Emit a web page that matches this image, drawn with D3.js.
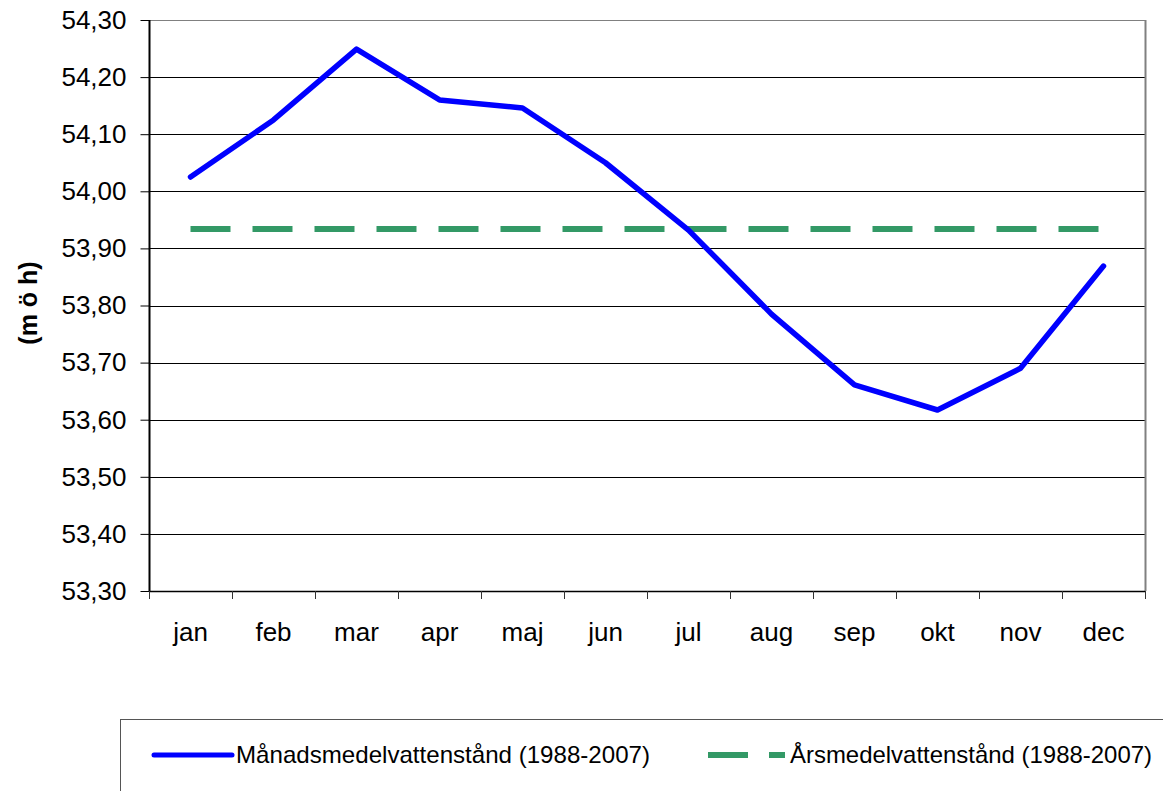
<!DOCTYPE html>
<html><head><meta charset="utf-8">
<script src="https://cdn.jsdelivr.net/npm/d3@7/dist/d3.min.js"></script>
<style>body{margin:0;background:#fff}svg{display:block;font-family:"Liberation Sans",Arial,sans-serif}</style>
</head><body>
<svg id="c" width="1163" height="791"></svg>
<script>
const months = ["jan","feb","mar","apr","maj","jun","jul","aug","sep","okt","nov","dec"];
const monthlyLevel = [54.025,54.125,54.249,54.160,54.146,54.050,53.932,53.785,53.661,53.617,53.690,53.869];
const annualMean = 53.934;
const yTicks = [53.30,53.40,53.50,53.60,53.70,53.80,53.90,54.00,54.10,54.20,54.30];
const seriesNames = ["Månadsmedelvattenstånd (1988-2007)","Årsmedelvattenstånd (1988-2007)"];
const yTitle = "(m ö h)";

const svg = d3.select("#c");
const L=149, R=1145, T=20, B=591;
const x = d3.scaleBand().domain(months).range([L,R]);
const y = d3.scaleLinear().domain([53.3,54.3]).range([B,T]);
const cx = m => x(m)+x.bandwidth()/2;
const fmt = v => v.toFixed(2).replace(".",",");

// gridlines
svg.append("g").selectAll("line").data(yTicks.slice(1)).join("line")
  .attr("x1",L).attr("x2",R).attr("y1",d=>Math.round(y(d))+0.5).attr("y2",d=>Math.round(y(d))+0.5)
  .attr("stroke",(d,i)=>i===yTicks.length-2?"#808080":"#000").attr("stroke-width",1);
// right border
svg.append("line").attr("x1",R+0.5).attr("x2",R+0.5).attr("y1",T).attr("y2",B).attr("stroke","#808080").attr("stroke-width",2);

// y axis
const ya = svg.append("g").attr("transform",`translate(${L+0.5},0)`)
  .call(d3.axisLeft(y).tickValues(yTicks).tickFormat(fmt).tickSize(9).tickPadding(14));
ya.select(".domain").attr("stroke","#000").attr("stroke-width",2).attr("d",`M0,${T}V${B}`);
ya.selectAll(".tick line").attr("stroke","#000");
ya.selectAll(".tick text").attr("font-size",26).attr("fill","#000").attr("font-family","Liberation Sans, Arial, sans-serif");

// x axis
const xa = svg.append("g").attr("transform",`translate(0,${B+0.5})`)
  .call(d3.axisBottom(x).tickSize(0).tickPadding(31));
xa.select(".domain").attr("stroke","#000").attr("stroke-width",1.5).attr("d",`M${L},0H${R}`);
xa.selectAll(".tick text").attr("font-size",26).attr("fill","#000").attr("font-family","Liberation Sans, Arial, sans-serif");
svg.append("g").selectAll("line").data(d3.range(months.length+1)).join("line")
  .attr("x1",i=>Math.round(L+i*x.step())+0.5).attr("x2",i=>Math.round(L+i*x.step())+0.5)
  .attr("y1",B).attr("y2",B+8).attr("stroke","#333").attr("stroke-width",1);

// y title
svg.append("text").attr("transform","translate(37,303) rotate(-90)").attr("text-anchor","middle")
  .attr("font-size",25).attr("font-weight","bold").text(yTitle);

// mean line
svg.append("line").attr("x1",cx(months[0])).attr("x2",cx(months[11]))
  .attr("y1",y(annualMean)).attr("y2",y(annualMean))
  .attr("stroke","#339966").attr("stroke-width",6).attr("stroke-dasharray","40,22");

// monthly line
svg.append("path").datum(monthlyLevel)
  .attr("d",d3.line().x((d,i)=>cx(months[i])).y(d=>y(d)))
  .attr("fill","none").attr("stroke","#0000FF").attr("stroke-width",5.5)
  .attr("stroke-linejoin","round").attr("stroke-linecap","round");

// legend
svg.append("rect").attr("x",120.5).attr("y",719.5).attr("width",1100).attr("height",100)
  .attr("fill","none").attr("stroke","#555").attr("stroke-width",1);
const ly = 755;
svg.append("line").attr("x1",154).attr("x2",232).attr("y1",ly).attr("y2",ly)
  .attr("stroke","#0000FF").attr("stroke-width",5).attr("stroke-linecap","round");
svg.append("text").attr("x",236).attr("y",ly+8).attr("font-size",24).attr("textLength",414).attr("lengthAdjust","spacingAndGlyphs").text(seriesNames[0]);
svg.append("line").attr("x1",708).attr("x2",785).attr("y1",ly).attr("y2",ly)
  .attr("stroke","#339966").attr("stroke-width",6).attr("stroke-dasharray","40,21");
svg.append("text").attr("x",790).attr("y",ly+8).attr("font-size",24).attr("textLength",362).attr("lengthAdjust","spacingAndGlyphs").text(seriesNames[1]);
</script>
</body></html>
